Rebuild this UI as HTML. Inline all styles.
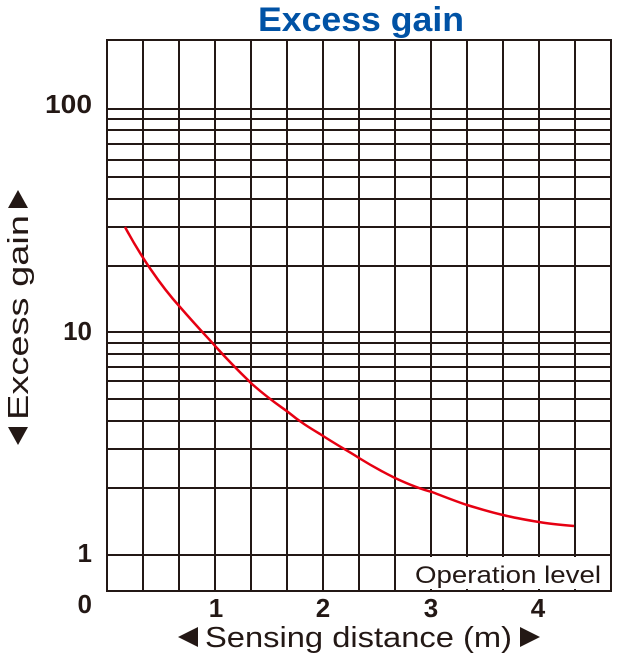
<!DOCTYPE html>
<html><head><meta charset="utf-8"><style>
body{margin:0;background:#fff;}
svg text{font-family:"Liberation Sans",sans-serif;}
</style></head><body>
<svg width="640" height="662" viewBox="0 0 640 662" xmlns="http://www.w3.org/2000/svg">
<text x="361" y="31" text-anchor="middle" font-size="34" font-weight="bold" fill="#0052a5" textLength="206" lengthAdjust="spacingAndGlyphs">Excess gain</text>
<g stroke="#231815" stroke-width="2" fill="none">
<rect x="107" y="40" width="504" height="551"/>
<path d="M143 40V591M179 40V591M215 40V591M251 40V591M287 40V591M323 40V591M359 40V591M395 40V591M431 40V591M467 40V591M503 40V591M539 40V591M575 40V591"/>
<path d="M107 109H611M107 119H611M107 130H611M107 144H611M107 160H611M107 177H611M107 199H611M107 227H611M107 266H611M107 332H611M107 343H611M107 354H611M107 367H611M107 381H611M107 399H611M107 421H611M107 449H611M107 488H611M107 555H611"/>
</g>
<rect x="412" y="557" width="195" height="32" fill="#fff"/>
<text x="415" y="583" font-size="24" fill="#231815" textLength="186" lengthAdjust="spacingAndGlyphs">Operation level</text>
<path d="M125 227 C140 255 160 285 180 307 C200 330 210 340 216 347 C235 368 250 382 252 384 C270 400 280 406 288 412 C300 422 310 428 320 434 C340 447 350 452 359 458 C375 468 385 473 395 478 C410 485 420 489 432 492 C445 497 455 501 467 505 C480 509 490 512 503 515 C515 518 527 520 539 522 C550 524 562 525 574 526" stroke="#e60012" stroke-width="2.5" fill="none"/>
<g font-size="26" font-weight="bold" fill="#231815" text-anchor="end">
<text x="92" y="113" textLength="47" lengthAdjust="spacingAndGlyphs">100</text>
<text x="92" y="340">10</text>
<text x="92" y="562">1</text>
<text x="92" y="613">0</text>
</g>
<g font-size="26" font-weight="bold" fill="#231815" text-anchor="middle">
<text x="216" y="617">1</text>
<text x="323" y="617">2</text>
<text x="431" y="617">3</text>
<text x="538" y="617">4</text>
</g>
<polygon points="178,637 198,627 198,647" fill="#231815"/>
<text x="205" y="647" font-size="29" fill="#231815" textLength="307" lengthAdjust="spacingAndGlyphs">Sensing distance (m)</text>
<polygon points="540,637 520,627 520,647" fill="#231815"/>
<polygon points="18,190 8,208 28,208" fill="#231815"/>
<text transform="translate(28,420) rotate(-90)" font-size="29" fill="#231815" textLength="205" lengthAdjust="spacingAndGlyphs">Excess gain</text>
<polygon points="18,445 8,427 28,427" fill="#231815"/>
</svg>
</body></html>
